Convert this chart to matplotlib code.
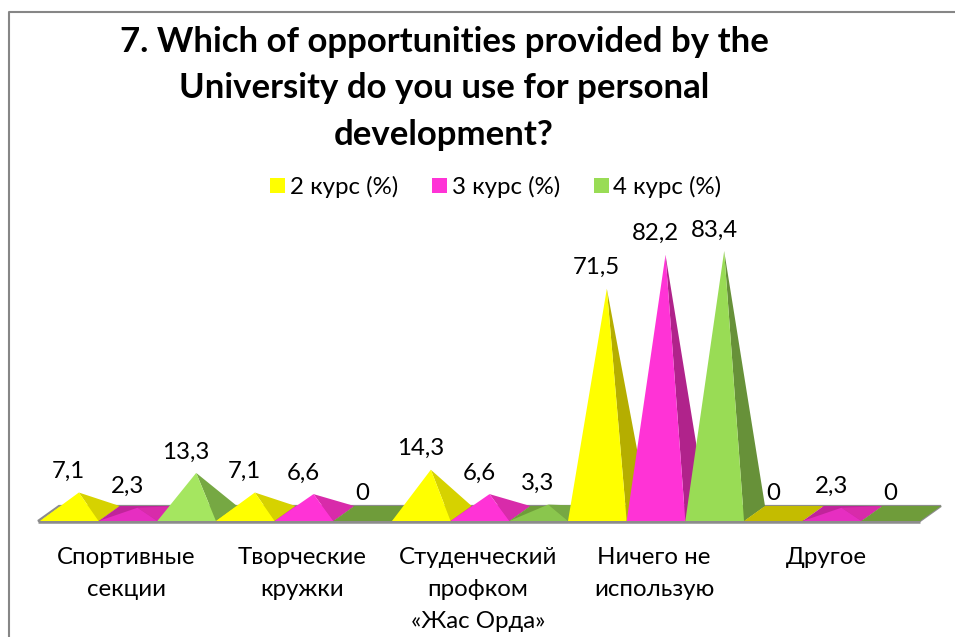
import matplotlib
matplotlib.use("Agg")
import matplotlib.pyplot as plt
import numpy as np
from matplotlib.colors import to_rgb
from matplotlib.lines import Line2D
from matplotlib.patches import Polygon, Rectangle
from matplotlib.transforms import ScaledTranslation

plt.rcParams['font.family'] = ['Lato', 'Open Sans', 'DejaVu Sans']

title = "7. Which of opportunities provided by the\nUniversity do you use for personal\ndevelopment?"
categories = ["Спортивные\nсекции", "Творческие\nкружки", "Студенческий\nпрофком\n«Жас Орда»",
              "Ничего не\nиспользую", "Другое"]
series_names = ["2 курс (%)", "3 курс (%)", "4 курс (%)"]
course2 = [7.1, 7.1, 14.3, 71.5, 0]
course3 = [2.3, 6.6, 6.6, 82.2, 2.3]
course4 = [13.3, 0, 3.3, 83.4, 0]
value_labels2 = ["7,1", "7,1", "14,3", "71,5", "0"]
value_labels3 = ["2,3", "6,6", "6,6", "82,2", "2,3"]
value_labels4 = ["13,3", "0", "3,3", "83,4", "0"]

front_colors = ["#FFFF00", "#FF33D6", "#99DC55"]
side_low = ["#D6D200", "#D82BAA", "#76A843"]
side_tall = ["#B5AE00", "#B0238B", "#679139"]
floor_colors = ["#C4BC00", "#C0249A", "#6F9C3A"]
grey = "#8C8C8C"

W, H = 955, 637
FS = 17.3
fig = plt.figure(figsize=(W / 100, H / 100), dpi=100)

# рамка: только слева и сверху, остальное обрезано
fig.add_artist(Line2D([9 / W, 9 / W, 1], [0, 1 - 12 / H, 1 - 12 / H], transform=fig.transFigure,
                      color="#868686", linewidth=1.5))

# оси: 15 пирамид на 880 px, 3.165 px на процент
px_per_unit = 3.165
ax_h = 100 * px_per_unit
ax = fig.add_axes([40 / W, 1 - 521 / H, 880 / W, ax_h / H])
ax.set_xlim(0, 15)
ax.set_ylim(0, 100)
ax.patch.set_alpha(0)
for s in ax.spines.values():
    s.set_visible(False)
ax.set_yticks([])

depth_x = 21 / (880 / 15)
depth_y = 15 / px_per_unit
apex_dx = 9.5 / (880 / 15)
apex_dy = 6 / px_per_unit

# пол
slab = [(-2 / 58.67, 0), (15, 0), (15 + depth_x, depth_y), (depth_x - 2 / 58.67, depth_y)]
ax.add_patch(Polygon(slab, closed=True, facecolor="#F4F4F4", edgecolor=grey, linewidth=1.6,
                     zorder=1, clip_on=False))


def pyramid(x0, value, s):
    # основание, правая грань, передняя грань
    base = [(x0, 0), (x0 + 1, 0), (x0 + 1 + depth_x, depth_y), (x0 + depth_x, depth_y)]
    ax.add_patch(Polygon(base, closed=True, facecolor=floor_colors[s], edgecolor="none", zorder=2, clip_on=False))
    if value == 0:
        return
    apex = (x0 + 0.5 + apex_dx, value + apex_dy)
    side = side_tall[s] if value > 20 else side_low[s]
    front = np.array(to_rgb(front_colors[s]))
    if value < 5:
        front = front * 0.9
    elif s == 2 and value < 20:
        front = np.array(to_rgb("#A5E660"))
    ax.add_patch(Polygon([(x0 + 1, 0), (x0 + 1 + depth_x, depth_y), apex], closed=True,
                         facecolor=side, edgecolor="none", zorder=2, clip_on=False))
    ax.add_patch(Polygon([(x0, 0), (x0 + 1, 0), apex], closed=True,
                         facecolor=front, edgecolor="none", zorder=2, clip_on=False))


series = [course2, course3, course4]
value_labels = [value_labels2, value_labels3, value_labels4]
pos = 0
for c in range(len(categories)):
    for s in range(3):
        pyramid(pos, series[s][c], s)
        ax.text(pos + 0.49, series[s][c] + 27 / px_per_unit, value_labels[s][c], ha="center", va="center",
                fontsize=FS, color="black", zorder=5)
        pos += 1

ax.plot([-2 / 58.67, 15], [-0.3, -0.3], color=grey, linewidth=1.8, zorder=3, clip_on=False,
        solid_capstyle="butt")

ax.set_xticks([1.5 + 3 * i for i in range(len(categories))])
ax.set_xticklabels(categories, fontsize=FS, linespacing=1.65)
ax.tick_params(axis="x", length=0, pad=19)
offset = ScaledTranslation(-2 / 100, 0, fig.dpi_scale_trans)
for lab in ax.get_xticklabels():
    lab.set_transform(lab.get_transform() + offset)
# "Другое" в оригинале чуть левее
last = ax.get_xticklabels()[-1]
last.set_transform(last.get_transform() + ScaledTranslation(-4 / 100, 0, fig.dpi_scale_trans))

# заголовок
fig.text(444 / W, 1 - 88.5 / H, title, ha="center", va="center", fontsize=25, fontweight="bold",
         linespacing=1.55, color="black")

handles = [Rectangle((0, 0), 1, 1, facecolor=c, edgecolor="none") for c in front_colors]
fig.legend(handles, series_names, loc="center", bbox_to_anchor=(496 / W, 1 - 187 / H), ncol=3, frameon=False,
           fontsize=FS, handlelength=0.62, handleheight=0.62, handletextpad=0.2, columnspacing=1.4)

fig.savefig("out.png", dpi=100)
